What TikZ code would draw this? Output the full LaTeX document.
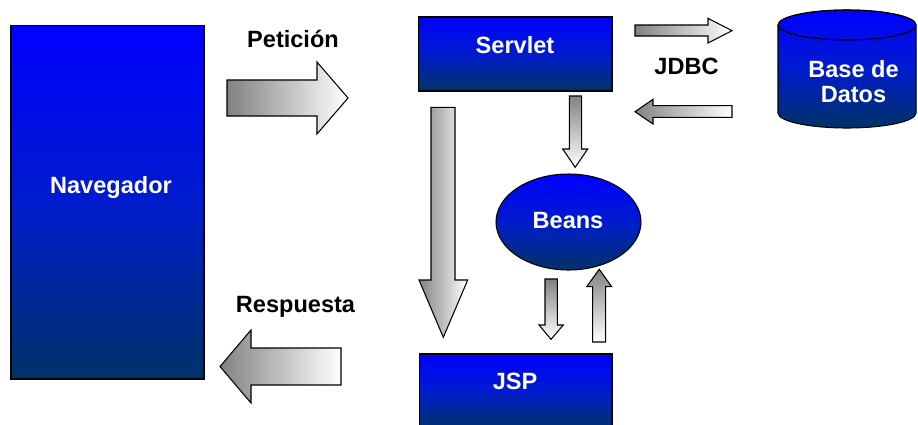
\documentclass[tikz,border=0pt]{standalone}
\usepackage{fontspec}
\setmainfont{Liberation Sans}
\usepackage{tikz}
\usetikzlibrary{positioning, shapes.geometric}
\definecolor{boxTop}{RGB}{0,0,255}
\definecolor{boxMid}{RGB}{0,28,205}
\definecolor{boxBot}{RGB}{0,51,102}
\definecolor{arrDark}{RGB}{130,130,130}

\begin{document}
\begin{tikzpicture}[x=0.02cm, y=0.02cm,
    box/.style={draw=black, line width=0.6pt, top color=boxTop, bottom color=boxBot, middle color=boxMid, inner sep=0pt},
    txt/.style={font=\bfseries\fontsize{13.4}{14.2}\selectfont, anchor=base},
    wtxt/.style={txt, text=white},
    arr/.style={draw=black, line width=0.6pt}]
    \useasboundingbox (0,0) rectangle (918,424);

    % boxes
    \node[box, minimum width=3.86cm, minimum height=7.08cm] (nav) at (107.5,222) {};
    \node[wtxt] (navtxt) at (111,231) {Navegador};
    \node[box, minimum width=3.88cm, minimum height=1.48cm] (servlet) at (515,370) {};
    \node[wtxt] (servtxt) at (515,371) {Servlet};
    \node[box, minimum width=3.86cm, minimum height=1.5cm] (jsp) at (515.5,32.5) {};
    \node[wtxt] (jsptxt) at (515,35) {JSP};
    \node[box, ellipse, minimum width=2.9cm, minimum height=1.92cm] (beans) at (568.5,202) {};
    \node[wtxt] (beanstxt) at (568,196) {Beans};

    % database
    \shade[arr, top color=boxTop, bottom color=boxBot, middle color=boxMid] (778,399) -- (778,311)
        arc[start angle=180, end angle=360, x radius=69, y radius=15] -- (916,399)
        arc[start angle=0, end angle=180, x radius=69, y radius=15] -- cycle;
    \draw[line width=0.6pt] (847,399) ellipse [x radius=69, y radius=15];
    \node[wtxt, anchor=center, align=center] (dbtxt) at (853.5,342) {Base de\\Datos};

    % labels
    \node[txt] (pet) at (293,377) {Petición};
    \node[txt] (resp) at (295.5,112) {Respuesta};
    \node[txt] (jdbc) at (686.5,350) {JDBC};

    % block arrows
    \shade[arr, left color=arrDark, right color=white] (227,308) -- (317,308) -- (317,290) -- (348,326) -- (317,362) -- (317,344) -- (227,344) -- cycle;
    \shade[arr, left color=arrDark, right color=white] (341,76) -- (251,76) -- (251,94) -- (220,57.5) -- (251,21) -- (251,39) -- (341,39) -- cycle;
    \shade[arr, left color=arrDark, right color=white] (635,388) -- (708,388) -- (708,381) -- (732,393.3) -- (708,405.7) -- (708,399) -- (635,399) -- cycle;
    \shade[arr, left color=arrDark, right color=white] (732,306.7) -- (653,306.7) -- (653,300) -- (635,312.3) -- (653,324.7) -- (653,318.3) -- (732,318.3) -- cycle;
    \shade[arr, top color=arrDark, bottom color=white] (569.3,328) -- (569.3,275) -- (562.7,275) -- (575.2,256.7) -- (587.7,275) -- (581.7,275) -- (581.7,328) -- cycle;
    \shade[arr, left color=arrDark, right color=white] (431,316.7) -- (431,144) -- (419,144) -- (443.3,86.7) -- (467.7,144) -- (455,144) -- (455,316.7) -- cycle;
    \shade[arr, top color=arrDark, bottom color=white] (545,145) -- (545,99) -- (539,99) -- (551,84.7) -- (563.3,99) -- (557.3,99) -- (557.3,145) -- cycle;
    \shade[arr, top color=arrDark, bottom color=white] (592.7,82) -- (592.7,137.3) -- (586.7,137.3) -- (599.2,154.7) -- (611.7,137.3) -- (605.7,137.3) -- (605.7,82) -- cycle;
\end{tikzpicture}
\end{document}
